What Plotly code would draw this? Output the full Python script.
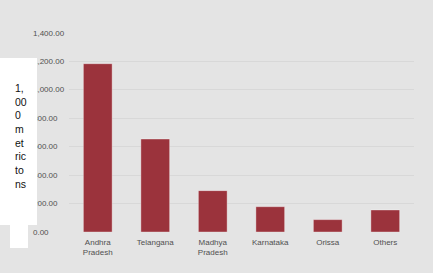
import plotly.graph_objects as go

categories = ["Andhra<br>Pradesh", "Telangana", "Madhya<br>Pradesh", "Karnataka", "Orissa", "Others"]
values = [1184, 654, 291, 178, 87, 155]
y_ticks = [0, 200, 400, 600, 800, 1000, 1200, 1400]
axis_title_lines = ["1,", "00", "0", "m", "et", "ric", "to", "ns"]

W, H = 433, 273
ml, mr, mt, mb = 69, 19, 33, 41

fig = go.Figure(go.Bar(
    x=categories, y=values,
    marker=dict(color="#9b333c", line=dict(color="rgba(255,255,255,0.35)", width=1)),
    width=0.5,
))

bg = "#e4e4e4"
fig.update_layout(
    width=W, height=H,
    margin=dict(l=ml, r=mr, t=mt, b=mb),
    paper_bgcolor=bg, plot_bgcolor=bg,
    showlegend=False,
    font=dict(family="Liberation Sans", size=8, color="#505050"),
    xaxis=dict(showgrid=False, showline=False, ticks="", tickfont=dict(size=8),
               ticklabelstandoff=4),
    yaxis=dict(range=[0, 1400], tickvals=y_ticks, showticklabels=False,
               gridcolor="#d8d8d8", gridwidth=1, zeroline=False, showline=False,
               ticks=""),
)

def px_x(x):
    return (x - ml) / (W - ml - mr)

def px_y(y):
    return (H - mb - y) / (H - mt - mb)

# left-aligned y tick labels
for v in y_ticks:
    fig.add_annotation(xref="paper", yref="y", x=px_x(31), y=v,
                       xanchor="left", yanchor="middle", showarrow=False,
                       text=f"{v:,.2f}", font=dict(size=8, color="#505050"))

# white boxes covering part of the labels
fig.add_annotation(xref="paper", yref="paper", x=px_x(0), y=px_y(58),
                   xanchor="left", yanchor="top", showarrow=False, text=" ",
                   width=37, height=167, bgcolor="white", borderpad=0, borderwidth=0)
fig.add_annotation(xref="paper", yref="paper", x=px_x(10), y=px_y(225),
                   xanchor="left", yanchor="top", showarrow=False, text=" ",
                   width=18, height=23, bgcolor="white", borderpad=0, borderwidth=0)

fig.add_annotation(xref="paper", yref="paper", x=px_x(13), y=px_y(80),
                   xanchor="left", yanchor="top", align="left", showarrow=False,
                   text="<br>".join(axis_title_lines),
                   font=dict(family="Liberation Sans", size=10.5, color="#111111"))

fig.write_html("out.html")
